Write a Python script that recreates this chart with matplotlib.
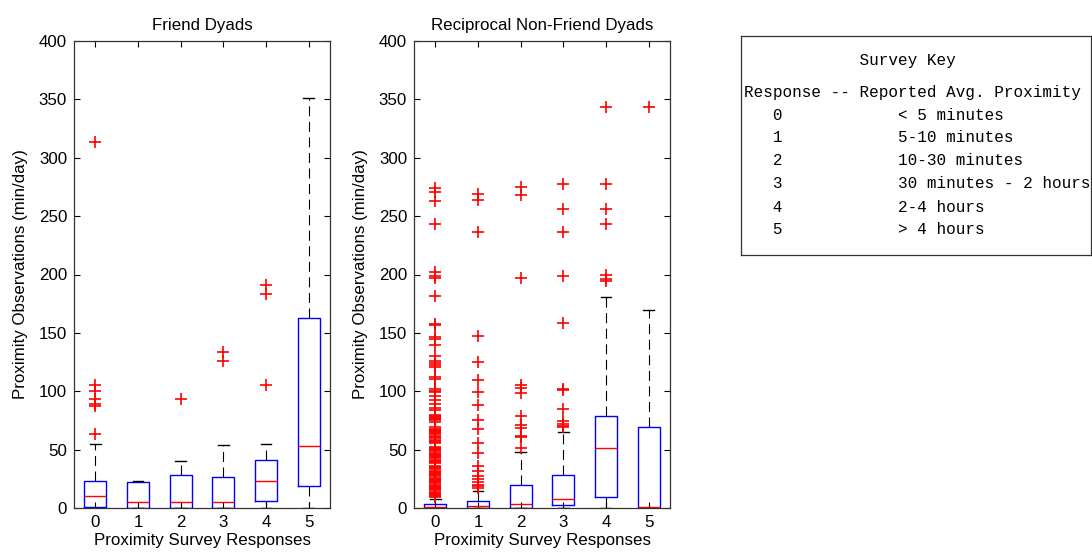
import matplotlib
matplotlib.use("Agg")
import matplotlib.pyplot as plt

W, H = 1092, 557

# ---------------- data ----------------
categories = ["0", "1", "2", "3", "4", "5"]
yticks = [0, 50, 100, 150, 200, 250, 300, 350, 400]

# Friend dyads
friend_q1 = [0.5, 0.3, 0.3, 0.3, 5.7, 18.5]
friend_med = [10.5, 5.5, 4.8, 4.8, 23.3, 53.5]
friend_q3 = [23.3, 22.3, 27.9, 26.7, 40.7, 162.4]
friend_lo = [0, 0, 0, 0, 0, 0]
friend_hi = [54.7, 23.2, 40.4, 53.8, 54.7, 351.0]
friend_out0 = [313.5, 105.5, 100.5, 93.5, 89.5, 87.0, 63.5]
friend_out1 = []
friend_out2 = [93.0]
friend_out3 = [126.0, 134.0]
friend_out4 = [105.0, 183.0, 191.0]
friend_out5 = []

# Reciprocal non-friend dyads
nonf_q1 = [0.0, 0.0, 0.3, 2.3, 9.1, 0.0]
nonf_med = [1.2, 1.4, 3.4, 8.0, 51.5, 0.9]
nonf_q3 = [3.4, 5.7, 19.9, 27.9, 79.2, 69.7]
nonf_lo = [0, 0, 0, 0, 0, 0]
nonf_hi = [8.0, 14.2, 47.9, 65.0, 181.0, 169.5]
nonf_out0 = [274.5, 271.0, 263.0, 243.5, 202.5, 198.5, 197.0, 181.5,
             157.8, 156.8, 146.5, 144.5, 140.0, 130.5, 125.5, 124.0, 122.5,
             120.5, 112.0, 110.5, 102.0, 100.5, 99.0, 96.0, 92.5, 89.0,
             85.5, 84.0,
             80.0, 79.0, 78.0, 77.0, 76.0, 75.0, 74.0,
             69.0, 68.0, 67.0, 66.0, 65.0, 64.0, 63.0, 62.0, 61.0, 60.0,
             58.5, 57.5, 56.5, 55.5,
             52.5, 51.5, 50.5, 49.5, 48.5, 47.5, 46.5, 45.5, 44.5, 43.5,
             42.5, 41.5, 40.5, 39.5, 38.5,
             36.0, 35.0, 34.0, 33.0, 32.0, 31.0, 30.0, 29.0, 28.0, 27.0,
             26.0, 25.0, 24.0, 23.0, 22.0, 21.0, 20.0, 19.0, 18.0, 17.0,
             16.0, 15.0, 14.0, 13.0, 12.0, 11.0, 10.0, 9.0]
nonf_out1 = [268.8, 264.0, 236.5, 147.0, 125.0, 110.0, 99.3, 87.8, 75.6,
             67.6, 55.6, 47.1, 35.6, 31.3, 27.0, 25.0, 22.0, 20.0, 18.5, 17.0]
nonf_out2 = [274.9, 268.3, 197.4, 105.6, 102.7, 98.4, 78.4, 71.3, 68.5,
             61.9, 60.8, 51.0]
nonf_out3 = [277.2, 256.0, 236.4, 198.8, 158.4, 101.9, 100.7, 84.8, 74.2,
             72.2, 70.5, 69.0]
nonf_out4 = [343.8, 277.2, 256.0, 243.6, 199.3, 196.5, 194.5]
nonf_out5 = [343.8]

key_title = "Survey Key"
key_header = "Response -- Reported Avg. Proximity"
key_codes = ["0", "1", "2", "3", "4", "5"]
key_desc = ["< 5 minutes", "5-10 minutes", "10-30 minutes",
            "30 minutes - 2 hours", "2-4 hours", "> 4 hours"]

titles = ["Friend Dyads", "Reciprocal Non-Friend Dyads"]
xlabel = "Proximity Survey Responses"
ylabel = "Proximity Observations (min/day)"


def make_stats(q1, med, q3, lo, hi, outs):
    st = []
    for i in range(len(med)):
        st.append(dict(q1=q1[i], med=med[i], q3=q3[i], whislo=lo[i],
                       whishi=hi[i], fliers=outs[i]))
    return st


friend_stats = make_stats(friend_q1, friend_med, friend_q3, friend_lo,
                          friend_hi, [friend_out0, friend_out1, friend_out2,
                                      friend_out3, friend_out4, friend_out5])
nonf_stats = make_stats(nonf_q1, nonf_med, nonf_q3, nonf_lo, nonf_hi,
                        [nonf_out0, nonf_out1, nonf_out2, nonf_out3,
                         nonf_out4, nonf_out5])

# ---------------- figure ----------------
plt.rcParams['font.family'] = ['Liberation Sans', 'DejaVu Sans']
fig = plt.figure(figsize=(W / 100, H / 100), dpi=100)
fig.patch.set_facecolor('white')

FS = 12.2


def fx(px):
    return px / W


def fy(py):
    return 1 - py / H


axes_px = [(74, 330), (414, 670)]
top_px, bot_px = 41, 508

positions = [1, 2, 3, 4, 5, 6]
for k, (stats, (x0, x1)) in enumerate(zip([friend_stats, nonf_stats], axes_px)):
    ax = fig.add_axes([fx(x0), fy(bot_px), fx(x1 - x0), (bot_px - top_px) / H])
    ax.bxp(stats, positions=positions, widths=0.52, capwidths=0.25,
           showfliers=True, manage_ticks=False,
           boxprops=dict(color='#0000ff', linewidth=1.0),
           medianprops=dict(color='#ff0000', linewidth=1.0),
           whiskerprops=dict(color='black', linewidth=0.8,
                             linestyle=(0, (9, 5))),
           capprops=dict(color='black', linewidth=1.0),
           flierprops=dict(marker='+', markeredgecolor='#ff0000',
                           markersize=9, markeredgewidth=1.2,
                           linestyle='none'))
    ax.set_xlim(0.5, 6.5)
    ax.set_ylim(0, 400)
    ax.set_xticks(positions)
    ax.set_xticklabels(categories)
    ax.set_yticks(yticks)
    ax.tick_params(direction='in', length=4, width=0.8, top=True,
                   right=True, labelsize=FS, pad=5, colors='black')
    for s in ax.spines.values():
        s.set_linewidth(0.9)
        s.set_color('#333333')
    ax.set_title(titles[k], fontsize=FS, pad=8)
    ax.set_xlabel(xlabel, fontsize=FS, labelpad=2)
    ax.set_ylabel(ylabel, fontsize=FS, labelpad=8)

# ---------------- survey key ----------------
kx0, kx1, ky0, ky1 = 741, 1091, 36, 255
kax = fig.add_axes([fx(kx0), fy(ky1), fx(kx1 - kx0), (ky1 - ky0) / H])
kax.set_xticks([])
kax.set_yticks([])
for s in kax.spines.values():
    s.set_linewidth(0.9)
    s.set_color('#333333')

mono = ['Liberation Mono', 'DejaVu Sans Mono']
MFS = 11.5
fig.text(fx(744), fy(60), " " * 12 + key_title, family=mono, fontsize=MFS,
         va='center', ha='left')
fig.text(fx(744), fy(92), key_header, family=mono, fontsize=MFS,
         va='center', ha='left')
for i, (c, d) in enumerate(zip(key_codes, key_desc)):
    line = "   " + c + " " * 12 + d
    fig.text(fx(744), fy(115 + 23 * i), line, family=mono, fontsize=MFS,
             va='center', ha='left')

fig.savefig("out.png", dpi=100, facecolor='white')
